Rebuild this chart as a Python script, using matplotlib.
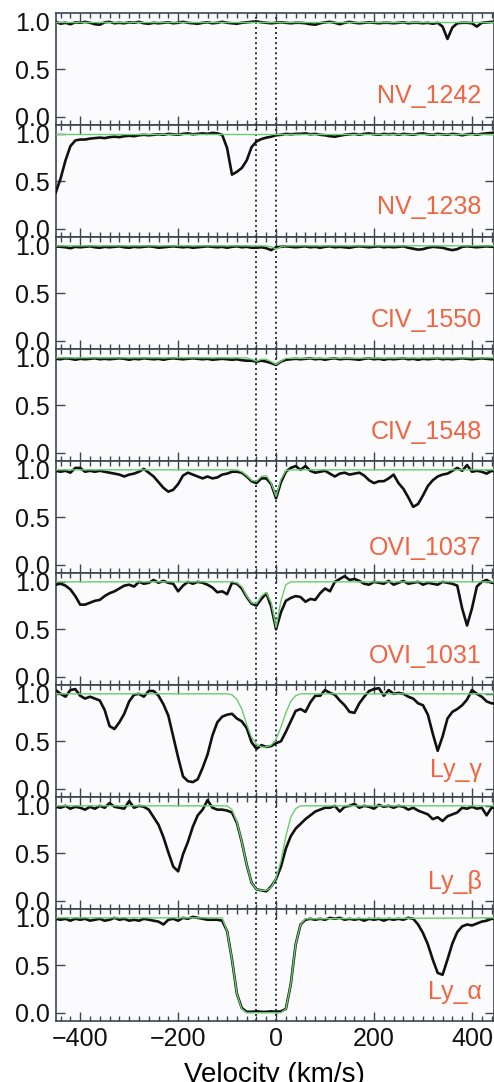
### Libraries ###
import numpy as np
import matplotlib
matplotlib.use('Agg')
import matplotlib.pyplot as plt
from matplotlib.ticker import MultipleLocator

plt.rcParams['font.family'] = ['Liberation Sans', 'DejaVu Sans']

### Velocity grid (km/s) and normalised flux per line ###
vel = np.arange(-450, 451, 10)

nv_1242 = [1.00, 0.98, 0.99, 0.975, 0.995, 0.99, 1.0, 0.99, 0.975, 0.97,
           0.995, 1.0, 0.985, 0.99, 0.985, 0.995, 0.99, 1.0, 0.985, 0.98,
           0.99, 0.985, 0.99, 0.995, 0.985, 0.99, 1.0, 0.99, 0.985, 0.98,
           0.99, 0.995, 0.985, 0.99, 1.0, 0.99, 0.985, 0.98, 0.99, 0.995,
           1.0, 1.005, 0.995, 0.99, 0.985, 0.99, 0.995, 0.99, 0.985, 0.99,
           0.99, 0.985, 0.975, 0.97, 0.985, 0.995, 1.0, 0.99, 0.975, 0.99,
           1.0, 0.99, 0.985, 0.99, 0.995, 0.99, 0.985, 0.99, 0.99, 0.985,
           0.99, 0.995, 0.985, 0.99, 0.99, 0.985, 0.99, 0.98, 0.99, 0.95,
           0.82, 0.94, 0.985, 0.99, 0.99, 0.985, 0.95, 0.99, 0.995, 1.0,
           1.0]

nv_1238 = [0.38, 0.53, 0.72, 0.87, 0.93, 0.94, 0.94, 0.95, 0.955, 0.96,
           0.955, 0.965, 0.97, 0.965, 0.975, 0.98, 0.975, 0.985, 0.99, 0.985,
           0.99, 0.995, 0.99, 1.0, 0.995, 0.99, 1.0, 1.005, 0.995, 1.0,
           1.005, 1.0, 1.01, 1.005, 0.99, 0.85, 0.57, 0.60, 0.64, 0.72,
           0.86, 0.92, 0.945, 0.96, 0.97, 0.985, 0.99, 1.0, 0.995, 1.0,
           1.0, 1.005, 0.995, 1.0, 0.99, 0.985, 0.975, 0.97, 0.98, 0.99,
           0.995, 1.0, 0.99, 1.0, 1.005, 0.995, 0.99, 1.0, 0.995, 1.0,
           0.99, 1.0, 0.995, 0.99, 1.0, 1.005, 0.995, 0.99, 1.0, 0.995,
           0.99, 1.0, 0.995, 0.985, 0.995, 1.0, 0.99, 1.0, 1.005, 1.01,
           1.01]

civ_1550 = [0.995, 0.99, 0.985, 0.975, 0.99, 0.985, 0.99, 0.995, 0.985, 0.98,
            0.99, 0.985, 0.99, 0.995, 0.985, 0.98, 0.99, 0.985, 0.99, 0.995,
            0.99, 0.98, 0.985, 0.99, 0.995, 0.99, 0.985, 0.99, 0.98, 0.985,
            0.99, 0.995, 0.99, 0.985, 0.99, 0.98, 0.99, 0.995, 0.985, 0.99,
            0.98, 0.98, 0.985, 0.975, 0.955, 0.985, 0.99, 0.995, 0.99, 0.985,
            0.99, 0.995, 0.985, 0.99, 0.98, 0.99, 0.995, 0.985, 0.99, 0.985,
            0.98, 0.99, 0.995, 0.99, 0.985, 0.99, 0.995, 0.985, 0.99, 0.985,
            0.99, 0.995, 0.98, 0.97, 0.96, 0.965, 0.98, 0.99, 0.985, 0.98,
            0.965, 0.955, 0.965, 0.99, 0.995, 0.99, 0.985, 0.99, 0.995, 0.99,
            0.99]

civ_1548 = [0.99, 0.985, 0.995, 0.99, 0.98, 0.99, 0.985, 0.99, 0.995, 0.985,
            0.99, 0.985, 0.99, 0.995, 0.99, 0.98, 0.99, 0.985, 0.995, 0.99,
            0.985, 0.99, 0.98, 0.99, 0.995, 0.99, 0.985, 0.99, 0.995, 0.99,
            0.985, 0.99, 0.98, 0.985, 0.99, 0.985, 0.98, 0.985, 0.975, 0.97,
            0.97, 0.96, 0.97, 0.96, 0.945, 0.925, 0.96, 0.98, 0.985, 0.99,
            0.985, 0.99, 0.995, 0.985, 0.99, 0.98, 0.99, 0.995, 0.985, 0.99,
            0.99, 0.985, 0.98, 0.99, 0.995, 0.985, 0.99, 0.98, 0.99, 0.985,
            0.99, 0.995, 0.985, 0.99, 0.98, 0.99, 0.985, 0.99, 0.995, 0.985,
            0.99, 0.985, 0.99, 0.995, 0.99, 0.985, 0.99, 0.995, 0.99, 0.985,
            0.99]

ovi_1037 = [0.99, 0.98, 0.99, 0.97, 1.02, 1.02, 0.98, 0.99, 0.98, 0.99,
            0.98, 0.97, 0.96, 0.95, 0.93, 0.95, 0.96, 0.98, 1.01, 0.97,
            0.93, 0.87, 0.81, 0.77, 0.79, 0.85, 0.94, 0.97, 0.95, 0.93,
            0.91, 0.93, 0.91, 0.92, 0.95, 0.96, 0.98, 0.98, 0.97, 0.93,
            0.88, 0.86, 0.91, 0.91, 0.85, 0.70, 0.87, 0.98, 1.02, 1.04,
            1.0, 1.04, 0.99, 0.97, 0.98, 0.99, 0.96, 0.93, 0.96, 0.97,
            0.95, 0.96, 0.97, 0.94, 0.89, 0.86, 0.88, 0.88, 0.91, 0.95,
            0.86, 0.80, 0.71, 0.61, 0.64, 0.73, 0.83, 0.89, 0.93, 0.95,
            0.96, 0.99, 1.02, 0.99, 1.05, 0.98, 0.99, 0.98, 0.96, 0.99,
            0.98]

ovi_1031 = [0.97, 0.98, 0.96, 0.92, 0.85, 0.76, 0.76, 0.78, 0.80, 0.81,
            0.85, 0.88, 0.90, 0.93, 0.96, 0.97, 0.95, 1.0, 0.98, 0.99,
            1.02, 0.99, 1.01, 0.99, 0.98, 0.90, 0.96, 1.0, 0.98, 1.0,
            0.99, 0.97, 0.94, 0.89, 0.90, 0.87, 0.99, 0.98, 0.93, 0.84,
            0.77, 0.75, 0.82, 0.88, 0.74, 0.50, 0.68, 0.80, 0.83, 0.85,
            0.84, 0.79, 0.82, 0.81, 0.88, 0.93, 0.90, 1.0, 1.03, 1.06,
            1.02, 1.03, 1.01, 0.98, 0.97, 1.0, 0.99, 0.98, 1.01, 0.97,
            0.99, 1.01, 0.98, 0.99, 1.0, 0.97, 0.99, 0.98, 0.97, 1.0,
            0.99, 0.98, 0.96, 0.72, 0.54, 0.72, 0.95, 1.0, 1.02, 0.99,
            0.99]

ly_gamma = [1.04, 1.0, 0.97, 1.04, 1.05, 0.98, 0.95, 0.97, 0.95, 0.93,
            0.83, 0.66, 0.63, 0.70, 0.79, 0.92, 0.99, 1.0, 0.97, 1.03,
            1.03, 0.98, 0.89, 0.77, 0.55, 0.33, 0.13, 0.08, 0.07, 0.10,
            0.22, 0.36, 0.56, 0.70, 0.76, 0.78, 0.79, 0.74, 0.71, 0.64,
            0.49, 0.42, 0.46, 0.44, 0.45, 0.48, 0.50, 0.60, 0.71, 0.82,
            0.84, 0.81, 0.91, 0.98, 0.98, 1.04, 1.01, 0.99, 0.93, 0.88,
            0.81, 0.80, 0.90, 0.97, 1.03, 1.05, 1.06, 0.98, 1.04, 1.00,
            1.01, 1.00, 0.97, 0.95, 0.90, 0.88, 0.78, 0.58, 0.40, 0.55,
            0.74, 0.81, 0.84, 0.88, 0.94, 1.04, 1.0, 0.97, 0.92, 0.90,
            0.90]

ly_beta = [0.99, 0.98, 1.0, 0.97, 0.99, 0.98, 0.96, 0.99, 0.97, 1.0,
           0.98, 1.03, 0.99, 0.98, 0.97, 1.05, 0.98, 1.0, 0.99, 0.96,
           0.88, 0.80, 0.67, 0.51, 0.36, 0.31, 0.49, 0.62, 0.78, 0.90,
           0.96, 1.06, 0.98, 0.96, 0.96, 0.95, 0.93, 0.82, 0.62, 0.38,
           0.19, 0.12, 0.11, 0.10, 0.15, 0.23, 0.36, 0.55, 0.68, 0.76,
           0.81, 0.86, 0.90, 0.94, 0.96, 0.98, 0.98, 1.0, 0.94, 0.99,
           1.0, 1.02, 0.98, 1.0, 0.99, 0.97, 1.01, 0.99, 1.0, 0.98,
           1.0, 0.99, 0.96, 0.98, 0.95, 0.93, 0.91, 0.86, 0.88, 0.84,
           0.89, 0.91, 0.93, 0.98, 0.97, 0.99, 0.97, 0.98, 0.90, 0.98,
           0.98]

ly_alpha = [0.99, 0.98, 0.99, 0.97, 0.99, 0.98, 0.99, 0.97, 0.98, 0.99,
            0.97, 0.98, 1.0, 0.98, 0.99, 0.97, 0.98, 0.97, 0.99, 0.98,
            0.97, 0.96, 0.93, 0.98, 0.99, 0.97, 1.0, 0.99, 1.01, 1.0,
            0.99, 0.98, 0.98, 0.98, 0.97, 0.86, 0.56, 0.20, 0.05, 0.01,
            0.01, 0.015, 0.01, 0.01, 0.015, 0.01, 0.015, 0.04, 0.30, 0.72,
            0.93, 0.98, 0.99, 0.98, 0.99, 0.98, 1.0, 0.99, 1.0, 0.98,
            0.99, 0.98, 0.99, 0.97, 0.99, 0.98, 0.99, 0.97, 0.99, 0.98,
            0.99, 0.98, 1.0, 0.99, 0.93, 0.84, 0.72, 0.56, 0.42, 0.40,
            0.56, 0.73, 0.85, 0.91, 0.93, 0.92, 0.94, 0.96, 0.97, 0.99,
            0.99]

### Model fits (green) ###
flat_v = [-450, 450]
flat_f = [1.0, 1.0]

civ_1550_mv = [-450, -20, -10, 0, 10, 20, 450]
civ_1550_mf = [1.0, 1.0, 0.99, 0.965, 0.99, 1.0, 1.0]

civ_1548_mv = [-450, -60, -50, -40, -30, -20, -10, 0, 10, 20, 450]
civ_1548_mf = [1.0, 1.0, 0.985, 0.965, 0.985, 0.985, 0.96, 0.93, 0.965, 0.995, 1.0]

ovi_1037_mv = [-450, -80, -70, -60, -50, -40, -30, -20, -10, 0, 10, 20, 30, 450]
ovi_1037_mf = [1.0, 1.0, 0.98, 0.94, 0.89, 0.88, 0.93, 0.94, 0.86, 0.72, 0.90, 0.99, 1.0, 1.0]

ovi_1031_mv = [-450, -90, -80, -70, -60, -50, -40, -30, -20, -10, 0, 10, 20, 30, 450]
ovi_1031_mf = [1.0, 1.0, 0.99, 0.95, 0.85, 0.78, 0.77, 0.85, 0.89, 0.78, 0.52, 0.80, 0.97, 1.0, 1.0]

ly_gamma_mv = [-450, -100, -90, -80, -70, -60, -50, -40, -30, -20, -10, 0, 10, 20, 30, 40, 50, 450]
ly_gamma_mf = [1.0, 1.0, 0.99, 0.94, 0.84, 0.68, 0.54, 0.47, 0.44, 0.44, 0.46, 0.52, 0.65, 0.80, 0.92, 0.98, 1.0, 1.0]

ly_beta_mv = [-450, -100, -90, -80, -70, -60, -50, -40, -30, -20, -10, 0, 10, 20, 30, 40, 50, 450]
ly_beta_mf = [1.0, 1.0, 0.96, 0.83, 0.62, 0.38, 0.19, 0.12, 0.11, 0.11, 0.14, 0.24, 0.42, 0.68, 0.88, 0.97, 1.0, 1.0]

ly_alpha_mv = [-450, -110, -100, -90, -80, -70, -60, -50, -40, -30, -20, -10, 0, 10, 20, 30, 40, 50, 60, 450]
ly_alpha_mf = [1.0, 1.0, 0.86, 0.56, 0.20, 0.04, 0.0, 0.0, 0.0, 0.0, 0.0, 0.0, 0.0, 0.0, 0.04, 0.30, 0.72, 0.93, 0.99, 1.0]

names = ['NV_1242', 'NV_1238', 'CIV_1550', 'CIV_1548', 'OVI_1037', 'OVI_1031',
         'Ly_\u03b3', 'Ly_\u03b2', 'Ly_\u03b1']
fluxes = [nv_1242, nv_1238, civ_1550, civ_1548, ovi_1037, ovi_1031,
          ly_gamma, ly_beta, ly_alpha]
models = [(flat_v, flat_f), (flat_v, flat_f), (civ_1550_mv, civ_1550_mf),
          (civ_1548_mv, civ_1548_mf), (ovi_1037_mv, ovi_1037_mf),
          (ovi_1031_mv, ovi_1031_mf), (ly_gamma_mv, ly_gamma_mf),
          (ly_beta_mv, ly_beta_mf), (ly_alpha_mv, ly_alpha_mf)]
label_y = [0.15, 0.16, 0.15, 0.15, 0.10, 0.14, 0.12, 0.12, 0.15]

# component velocities marked with dotted lines
comp_vel = [-41, 0]

### Plot ###
W, H = 494, 1082
fig = plt.figure(figsize=(W / 100, H / 100), dpi=100)
fig.patch.set_facecolor('white')

left, right, top, ph = 55.7, 493.5, 13.3, 112.0
axcol = '#3c4450'
axes = []
for i in range(len(names)):
    ax = fig.add_axes([left / W, 1 - (top + ph * (i + 1)) / H, (right - left) / W, ph / H])
    ax.set_facecolor('#fbfbfd')
    ax.plot(vel, fluxes[i], color='#111111', lw=1.9, zorder=3)
    ax.plot(models[i][0], models[i][1], color='#6dcc6d', lw=1.0, zorder=4)
    for v0 in comp_vel:
        ax.axvline(v0, color='#24324d', ls=(0, (1, 1.6)), lw=1.4, zorder=2)
    ax.text(420, label_y[i], names[i], color='#f2643f', fontsize=18,
            ha='right', va='baseline')
    ax.set_xlim(-450, 444)
    ax.set_ylim(-0.09, 1.09)
    ax.set_yticks([0.0, 0.5, 1.0])
    ax.set_yticklabels(['0.0', '0.5', '1.0'])
    ax.xaxis.set_major_locator(MultipleLocator(200))
    ax.xaxis.set_minor_locator(MultipleLocator(20))
    ax.tick_params(which='both', direction='in', top=True, right=True,
                   color=axcol, width=1.0, labelsize=18, labelcolor='#111111')
    ax.tick_params(which='major', length=6.5, pad=4)
    ax.tick_params(which='minor', length=3.5)
    for sp in ax.spines.values():
        sp.set_color(axcol)
        sp.set_linewidth(1.2)
    if i < len(names) - 1:
        ax.tick_params(labelbottom=False)
    axes.append(ax)

axes[-1].set_xticks([-400, -200, 0, 200, 400])
axes[-1].set_xlabel('Velocity (km/s)', fontsize=20, labelpad=8)

fig.savefig('out.png', dpi=100, facecolor='white')
